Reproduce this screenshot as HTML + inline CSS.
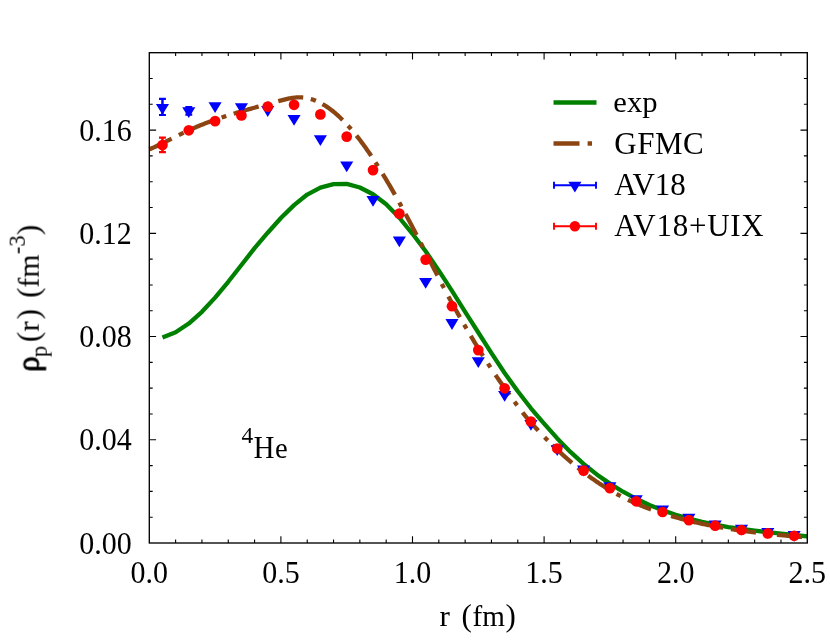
<!DOCTYPE html>
<html><head><meta charset="utf-8"><title>4He proton density</title>
<style>html,body{margin:0;padding:0;background:#fff;}svg{display:block;}text{font-family:"Liberation Serif",serif;fill:#000;}.tx{filter:grayscale(1);}</style></head>
<body>
<svg width="830" height="642" viewBox="0 0 830 642">
<rect width="830" height="642" fill="#fff"/>
<path d="M175.62 543.00 v-3.40 M175.62 52.70 v3.40 M201.94 543.00 v-3.40 M201.94 52.70 v3.40 M228.26 543.00 v-3.40 M228.26 52.70 v3.40 M254.58 543.00 v-3.40 M254.58 52.70 v3.40 M280.90 543.00 v-6.80 M280.90 52.70 v6.80 M307.22 543.00 v-3.40 M307.22 52.70 v3.40 M333.54 543.00 v-3.40 M333.54 52.70 v3.40 M359.86 543.00 v-3.40 M359.86 52.70 v3.40 M386.18 543.00 v-3.40 M386.18 52.70 v3.40 M412.50 543.00 v-6.80 M412.50 52.70 v6.80 M438.82 543.00 v-3.40 M438.82 52.70 v3.40 M465.14 543.00 v-3.40 M465.14 52.70 v3.40 M491.46 543.00 v-3.40 M491.46 52.70 v3.40 M517.78 543.00 v-3.40 M517.78 52.70 v3.40 M544.10 543.00 v-6.80 M544.10 52.70 v6.80 M570.42 543.00 v-3.40 M570.42 52.70 v3.40 M596.74 543.00 v-3.40 M596.74 52.70 v3.40 M623.06 543.00 v-3.40 M623.06 52.70 v3.40 M649.38 543.00 v-3.40 M649.38 52.70 v3.40 M675.70 543.00 v-6.80 M675.70 52.70 v6.80 M702.02 543.00 v-3.40 M702.02 52.70 v3.40 M728.34 543.00 v-3.40 M728.34 52.70 v3.40 M754.66 543.00 v-3.40 M754.66 52.70 v3.40 M780.98 543.00 v-3.40 M780.98 52.70 v3.40 M149.30 517.19 h3.40 M807.30 517.19 h-3.40 M149.30 491.39 h3.40 M807.30 491.39 h-3.40 M149.30 465.58 h3.40 M807.30 465.58 h-3.40 M149.30 439.78 h6.80 M807.30 439.78 h-6.80 M149.30 413.97 h3.40 M807.30 413.97 h-3.40 M149.30 388.17 h3.40 M807.30 388.17 h-3.40 M149.30 362.36 h3.40 M807.30 362.36 h-3.40 M149.30 336.56 h6.80 M807.30 336.56 h-6.80 M149.30 310.75 h3.40 M807.30 310.75 h-3.40 M149.30 284.95 h3.40 M807.30 284.95 h-3.40 M149.30 259.14 h3.40 M807.30 259.14 h-3.40 M149.30 233.34 h6.80 M807.30 233.34 h-6.80 M149.30 207.53 h3.40 M807.30 207.53 h-3.40 M149.30 181.73 h3.40 M807.30 181.73 h-3.40 M149.30 155.92 h3.40 M807.30 155.92 h-3.40 M149.30 130.12 h6.80 M807.30 130.12 h-6.80 M149.30 104.31 h3.40 M807.30 104.31 h-3.40 M149.30 78.51 h3.40 M807.30 78.51 h-3.40" stroke="#000" stroke-width="1.1" fill="none"/>
<defs><clipPath id="cp"><rect x="148.30" y="52.70" width="659.50" height="490.30"/></clipPath></defs>
<path d="M162.46 337.47 L175.62 332.31 L188.78 323.52 L201.94 311.80 L215.10 297.62 L228.26 281.77 L241.42 265.02 L254.58 248.15 L267.74 232.70 L280.90 217.98 L294.06 205.13 L307.22 194.55 L320.38 187.66 L333.54 184.13 L346.70 183.85 L359.86 187.48 L373.02 194.28 L386.18 204.33 L399.34 217.74 L412.50 233.80 L425.66 251.30 L438.82 270.60 L451.98 290.90 L465.14 311.80 L478.30 332.50 L491.46 353.20 L504.62 373.00 L517.78 391.30 L530.94 408.30 L544.10 423.55 L557.26 438.41 L570.42 451.96 L583.58 463.96 L596.74 474.44 L609.90 483.63 L623.06 491.73 L636.22 498.81 L649.38 504.97 L662.54 510.27 L675.70 514.82 L688.86 518.68 L702.02 521.94 L715.18 524.69 L728.34 527.01 L741.50 528.97 L754.66 530.67 L767.82 532.19 L780.98 533.60 L794.14 535.00 L807.30 536.46" fill="none" stroke="#008000" stroke-width="4.3" stroke-linejoin="round" clip-path="url(#cp)"/>
<path d="M149.30 149.36 L150.30 148.93 L151.30 148.50 L152.30 148.05 L153.30 147.60 L154.30 147.15 L155.30 146.69 L156.30 146.23 L157.30 145.76 L158.30 145.28 L159.30 144.81 L160.30 144.32 L161.30 143.84 L162.30 143.35 L163.30 142.86 L164.30 142.37 L165.30 141.87 L166.30 141.37 L167.30 140.88 L168.30 140.38 L169.30 139.87 L170.30 139.37 L171.30 138.87 L172.30 138.37 L173.30 137.86 L174.30 137.36 L175.30 136.86 L176.30 136.36 L177.30 135.86 L178.30 135.36 L179.30 134.87 L180.30 134.38 L181.30 133.89 L182.30 133.40 L183.30 132.91 L184.30 132.43 L185.30 131.96 L186.30 131.48 L187.30 131.01 L188.30 130.55 L189.30 130.09 L190.30 129.64 L191.30 129.19 L192.30 128.74 L193.30 128.30 L194.30 127.87 L195.30 127.44 L196.30 127.01 L197.30 126.59 L198.30 126.17 L199.30 125.76 L200.30 125.35 L201.30 124.95 L202.30 124.55 L203.30 124.15 L204.30 123.76 L205.30 123.37 L206.30 122.99 L207.30 122.61 L208.30 122.23 L209.30 121.86 L210.30 121.49 L211.30 121.13 L212.30 120.76 L213.30 120.40 L214.30 120.05 L215.30 119.70 L216.30 119.35 L217.30 119.00 L218.30 118.66 L219.30 118.32 L220.30 117.98 L221.30 117.64 L222.30 117.31 L223.30 116.98 L224.30 116.66 L225.30 116.33 L226.30 116.01 L227.30 115.69 L228.30 115.37 L229.30 115.06 L230.30 114.74 L231.30 114.43 L232.30 114.12 L233.30 113.82 L234.30 113.51 L235.30 113.21 L236.30 112.91 L237.30 112.61 L238.30 112.31 L239.30 112.02 L240.30 111.72 L241.30 111.43 L242.30 111.14 L243.30 110.85 L244.30 110.56 L245.30 110.27 L246.30 109.99 L247.30 109.70 L248.30 109.42 L249.30 109.14 L250.30 108.86 L251.30 108.58 L252.30 108.30 L253.30 108.02 L254.30 107.75 L255.30 107.47 L256.30 107.19 L257.30 106.92 L258.30 106.64 L259.30 106.37 L260.30 106.10 L261.30 105.83 L262.30 105.55 L263.30 105.28 L264.30 105.01 L265.30 104.74 L266.30 104.47 L267.30 104.20 L268.30 103.93 L269.30 103.66 L270.30 103.39 L271.30 103.11 L272.30 102.84 L273.30 102.57 L274.30 102.30 L275.30 102.03 L276.30 101.76 L277.30 101.49 L278.30 101.21 L279.30 100.94 L280.30 100.67 L281.30 100.40 L282.30 100.13 L283.30 99.87 L284.30 99.61 L285.30 99.36 L286.30 99.12 L287.30 98.89 L288.30 98.67 L289.30 98.46 L290.30 98.27 L291.30 98.09 L292.30 97.92 L293.30 97.78 L294.30 97.65 L295.30 97.54 L296.30 97.45 L297.30 97.39 L298.30 97.35 L299.30 97.33 L300.30 97.35 L301.30 97.38 L302.30 97.45 L303.30 97.54 L304.30 97.65 L305.30 97.79 L306.30 97.96 L307.30 98.15 L308.30 98.37 L309.30 98.61 L310.30 98.88 L311.30 99.17 L312.30 99.49 L313.30 99.83 L314.30 100.20 L315.30 100.59 L316.30 101.00 L317.30 101.44 L318.30 101.90 L319.30 102.39 L320.30 102.90 L321.30 103.43 L322.30 103.98 L323.30 104.56 L324.30 105.16 L325.30 105.79 L326.30 106.43 L327.30 107.10 L328.30 107.79 L329.30 108.50 L330.30 109.24 L331.30 109.99 L332.30 110.77 L333.30 111.56 L334.30 112.38 L335.30 113.22 L336.30 114.08 L337.30 114.97 L338.30 115.87 L339.30 116.79 L340.30 117.73 L341.30 118.69 L342.30 119.68 L343.30 120.68 L344.30 121.70 L345.30 122.74 L346.30 123.80 L347.30 124.88 L348.30 125.98 L349.30 127.09 L350.30 128.23 L351.30 129.38 L352.30 130.55 L353.30 131.74 L354.30 132.95 L355.30 134.17 L356.30 135.42 L357.30 136.68 L358.30 137.95 L359.30 139.25 L360.30 140.56 L361.30 141.89 L362.30 143.23 L363.30 144.59 L364.30 145.97 L365.30 147.36 L366.30 148.77 L367.30 150.19 L368.30 151.63 L369.30 153.08 L370.30 154.55 L371.30 156.03 L372.30 157.53 L373.30 159.04 L374.30 160.56 L375.30 162.10 L376.30 163.65 L377.30 165.22 L378.30 166.80 L379.30 168.39 L380.30 169.99 L381.30 171.61 L382.30 173.23 L383.30 174.87 L384.30 176.53 L385.30 178.19 L386.30 179.86 L387.30 181.55 L388.30 183.25 L389.30 184.96 L390.30 186.67 L391.30 188.40 L392.30 190.14 L393.30 191.89 L394.30 193.65 L395.30 195.42 L396.30 197.20 L397.30 198.98 L398.30 200.78 L399.30 202.58 L400.30 204.40 L401.30 206.22 L402.30 208.05 L403.30 209.88 L404.30 211.73 L405.30 213.58 L406.30 215.44 L407.30 217.30 L408.30 219.18 L409.30 221.06 L410.30 222.94 L411.30 224.84 L412.30 226.74 L413.30 228.64 L414.30 230.55 L415.30 232.46 L416.30 234.38 L417.30 236.31 L418.30 238.24 L419.30 240.17 L420.30 242.11 L421.30 244.05 L422.30 246.00 L423.30 247.95 L424.30 249.89 L425.30 251.85 L426.30 253.80 L427.30 255.75 L428.30 257.71 L429.30 259.66 L430.30 261.62 L431.30 263.57 L432.30 265.53 L433.30 267.48 L434.30 269.43 L435.30 271.38 L436.30 273.32 L437.30 275.27 L438.30 277.21 L439.30 279.14 L440.30 281.08 L441.30 283.00 L442.30 284.92 L443.30 286.84 L444.30 288.74 L445.30 290.64 L446.30 292.53 L447.30 294.40 L448.30 296.27 L449.30 298.12 L450.30 299.97 L451.30 301.80 L452.30 303.62 L453.30 305.43 L454.30 307.24 L455.30 309.03 L456.30 310.82 L457.30 312.60 L458.30 314.36 L459.30 316.13 L460.30 317.88 L461.30 319.63 L462.30 321.37 L463.30 323.10 L464.30 324.83 L465.30 326.56 L466.30 328.27 L467.30 329.99 L468.30 331.69 L469.30 333.39 L470.30 335.09 L471.30 336.77 L472.30 338.45 L473.30 340.12 L474.30 341.78 L475.30 343.43 L476.30 345.07 L477.30 346.71 L478.30 348.34 L479.30 349.96 L480.30 351.57 L481.30 353.18 L482.30 354.77 L483.30 356.36 L484.30 357.93 L485.30 359.50 L486.30 361.06 L487.30 362.61 L488.30 364.16 L489.30 365.69 L490.30 367.22 L491.30 368.73 L492.30 370.24 L493.30 371.73 L494.30 373.22 L495.30 374.69 L496.30 376.15 L497.30 377.61 L498.30 379.05 L499.30 380.49 L500.30 381.91 L501.30 383.33 L502.30 384.75 L503.30 386.16 L504.30 387.56 L505.30 388.96 L506.30 390.35 L507.30 391.75 L508.30 393.14 L509.30 394.53 L510.30 395.92 L511.30 397.31 L512.30 398.70 L513.30 400.08 L514.30 401.46 L515.30 402.84 L516.30 404.21 L517.30 405.56 L518.30 406.91 L519.30 408.24 L520.30 409.56 L521.30 410.86 L522.30 412.15 L523.30 413.41 L524.30 414.66 L525.30 415.89 L526.30 417.11 L527.30 418.31 L528.30 419.49 L529.30 420.66 L530.30 421.82 L531.30 422.96 L532.30 424.09 L533.30 425.21 L534.30 426.32 L535.30 427.41 L536.30 428.50 L537.30 429.58 L538.30 430.66 L539.30 431.72 L540.30 432.78 L541.30 433.83 L542.30 434.88 L543.30 435.91 L544.30 436.95 L545.30 437.97 L546.30 438.99 L547.30 440.00 L548.30 441.01 L549.30 442.00 L550.30 443.00 L551.30 443.98 L552.30 444.96 L553.30 445.93 L554.30 446.90 L555.30 447.85 L556.30 448.81 L557.30 449.75 L558.30 450.69 L559.30 451.62 L560.30 452.55 L561.30 453.46 L562.30 454.38 L563.30 455.28 L564.30 456.18 L565.30 457.07 L566.30 457.96 L567.30 458.83 L568.30 459.71 L569.30 460.57 L570.30 461.43 L571.30 462.28 L572.30 463.13 L573.30 463.97 L574.30 464.80 L575.30 465.62 L576.30 466.44 L577.30 467.25 L578.30 468.06 L579.30 468.86 L580.30 469.65 L581.30 470.44 L582.30 471.22 L583.30 471.99 L584.30 472.76 L585.30 473.52 L586.30 474.27 L587.30 475.01 L588.30 475.75 L589.30 476.49 L590.30 477.21 L591.30 477.93 L592.30 478.65 L593.30 479.35 L594.30 480.05 L595.30 480.75 L596.30 481.43 L597.30 482.12 L598.30 482.79 L599.30 483.46 L600.30 484.12 L601.30 484.77 L602.30 485.42 L603.30 486.06 L604.30 486.69 L605.30 487.32 L606.30 487.94 L607.30 488.56 L608.30 489.17 L609.30 489.77 L610.30 490.36 L611.30 490.95 L612.30 491.54 L613.30 492.11 L614.30 492.68 L615.30 493.24 L616.30 493.80 L617.30 494.35 L618.30 494.89 L619.30 495.43 L620.30 495.96 L621.30 496.48 L622.30 497.00 L623.30 497.51 L624.30 498.01 L625.30 498.51 L626.30 499.01 L627.30 499.49 L628.30 499.97 L629.30 500.45 L630.30 500.92 L631.30 501.38 L632.30 501.84 L633.30 502.29 L634.30 502.74 L635.30 503.18 L636.30 503.61 L637.30 504.04 L638.30 504.47 L639.30 504.89 L640.30 505.31 L641.30 505.72 L642.30 506.12 L643.30 506.52 L644.30 506.92 L645.30 507.31 L646.30 507.70 L647.30 508.08 L648.30 508.45 L649.30 508.83 L650.30 509.20 L651.30 509.56 L652.30 509.92 L653.30 510.28 L654.30 510.63 L655.30 510.97 L656.30 511.32 L657.30 511.66 L658.30 511.99 L659.30 512.33 L660.30 512.66 L661.30 512.98 L662.30 513.30 L663.30 513.62 L664.30 513.94 L665.30 514.25 L666.30 514.55 L667.30 514.86 L668.30 515.16 L669.30 515.46 L670.30 515.76 L671.30 516.05 L672.30 516.34 L673.30 516.63 L674.30 516.91 L675.30 517.19 L676.30 517.47 L677.30 517.75 L678.30 518.02 L679.30 518.29 L680.30 518.56 L681.30 518.83 L682.30 519.09 L683.30 519.35 L684.30 519.61 L685.30 519.86 L686.30 520.12 L687.30 520.37 L688.30 520.61 L689.30 520.86 L690.30 521.10 L691.30 521.34 L692.30 521.58 L693.30 521.82 L694.30 522.05 L695.30 522.28 L696.30 522.51 L697.30 522.73 L698.30 522.96 L699.30 523.18 L700.30 523.40 L701.30 523.61 L702.30 523.83 L703.30 524.04 L704.30 524.25 L705.30 524.46 L706.30 524.66 L707.30 524.86 L708.30 525.06 L709.30 525.26 L710.30 525.46 L711.30 525.66 L712.30 525.85 L713.30 526.04 L714.30 526.23 L715.30 526.41 L716.30 526.60 L717.30 526.78 L718.30 526.96 L719.30 527.14 L720.30 527.32 L721.30 527.49 L722.30 527.66 L723.30 527.83 L724.30 528.00 L725.30 528.17 L726.30 528.34 L727.30 528.50 L728.30 528.66 L729.30 528.82 L730.30 528.98 L731.30 529.14 L732.30 529.29 L733.30 529.45 L734.30 529.60 L735.30 529.75 L736.30 529.90 L737.30 530.04 L738.30 530.19 L739.30 530.33 L740.30 530.47 L741.30 530.61 L742.30 530.75 L743.30 530.89 L744.30 531.03 L745.30 531.16 L746.30 531.30 L747.30 531.43 L748.30 531.56 L749.30 531.69 L750.30 531.81 L751.30 531.94 L752.30 532.07 L753.30 532.19 L754.30 532.31 L755.30 532.43 L756.30 532.55 L757.30 532.67 L758.30 532.79 L759.30 532.91 L760.30 533.02 L761.30 533.13 L762.30 533.25 L763.30 533.36 L764.30 533.47 L765.30 533.58 L766.30 533.69 L767.30 533.79 L768.30 533.90 L769.30 534.01 L770.30 534.11 L771.30 534.21 L772.30 534.32 L773.30 534.42 L774.30 534.52 L775.30 534.62 L776.30 534.72 L777.30 534.82 L778.30 534.91 L779.30 535.01 L780.30 535.10 L781.30 535.20 L782.30 535.29 L783.30 535.39 L784.30 535.48 L785.30 535.57 L786.30 535.66 L787.30 535.75 L788.30 535.84 L789.30 535.93 L790.30 536.02 L791.30 536.11 L792.30 536.20 L793.30 536.28 L794.30 536.37 L795.30 536.45 L796.30 536.54 L797.30 536.62 L798.30 536.71 L799.30 536.79 L800.30 536.88 L801.30 536.96 L802.30 537.04 L803.30 537.12 L804.30 537.21 L805.30 537.29 L806.30 537.37 L807.30 537.45" fill="none" stroke="#8b4513" stroke-width="4.3" stroke-dasharray="24.71 8.16 5.34 6.96 24.80 9.10 4.94 7.75 26.01 6.84 4.87 8.60 25.33 7.76 5.41 7.37 25.83 7.79 4.60 8.36 25.11 7.74 4.60 9.02 24.11 8.92 4.60 8.40 23.75 9.18 4.60 8.38 23.60 9.41 4.60 9.47 23.79 8.55 4.60 8.37 23.68 8.99 4.60 9.12 24.49 8.19 4.60 8.98 23.95 9.20 4.60 6.29 26.63 7.52 4.60 8.41 26.90 7.00 4.60 8.24 24.94 8.27 4.60 8.27 53.35 8.00 25.24 8.27 4.60 8.26 25.20 1000.00" clip-path="url(#cp)"/>
<g><path d="M162.46 98.90 V115.00" stroke="#0000ff" stroke-width="2.5" fill="none"/><path d="M159.01 98.90 h6.9 M159.01 115.00 h6.9" stroke="#0000ff" stroke-width="2.1" fill="none"/><path d="M188.78 107.00 V114.60" stroke="#0000ff" stroke-width="2.5" fill="none"/><path d="M185.33 107.00 h6.9 M185.33 114.60 h6.9" stroke="#0000ff" stroke-width="2.1" fill="none"/><path d="M155.91 103.90 h13.10 l-6.55 10.80 z M182.23 107.30 h13.10 l-6.55 10.80 z M208.55 102.30 h13.10 l-6.55 10.80 z M234.87 103.20 h13.10 l-6.55 10.80 z M261.19 106.10 h13.10 l-6.55 10.80 z M287.51 114.90 h13.10 l-6.55 10.80 z M313.83 135.20 h13.10 l-6.55 10.80 z M340.15 161.50 h13.10 l-6.55 10.80 z M366.47 196.00 h13.10 l-6.55 10.80 z M392.79 236.40 h13.10 l-6.55 10.80 z M419.11 277.90 h13.10 l-6.55 10.80 z M445.43 319.10 h13.10 l-6.55 10.80 z M471.75 357.20 h13.10 l-6.55 10.80 z M498.07 391.00 h13.10 l-6.55 10.80 z M524.39 420.00 h13.10 l-6.55 10.80 z M550.71 445.20 h13.10 l-6.55 10.80 z M577.03 465.60 h13.10 l-6.55 10.80 z M603.35 482.20 h13.10 l-6.55 10.80 z M629.67 495.20 h13.10 l-6.55 10.80 z M655.99 505.40 h13.10 l-6.55 10.80 z M682.31 513.70 h13.10 l-6.55 10.80 z M708.63 520.40 h13.10 l-6.55 10.80 z M734.95 524.80 h13.10 l-6.55 10.80 z M761.27 528.00 h13.10 l-6.55 10.80 z M787.59 531.00 h13.10 l-6.55 10.80 z" fill="#0000ff"/></g>
<g><path d="M162.46 137.65 V152.10" stroke="#ff0000" stroke-width="2.5" fill="none"/><path d="M159.01 137.65 h6.9 M159.01 152.10 h6.9" stroke="#ff0000" stroke-width="2.1" fill="none"/><circle cx="162.46" cy="145.00" r="5.35" fill="#ff0000"/><circle cx="188.78" cy="130.30" r="5.35" fill="#ff0000"/><circle cx="215.10" cy="121.10" r="5.35" fill="#ff0000"/><circle cx="241.42" cy="115.40" r="5.35" fill="#ff0000"/><circle cx="267.74" cy="106.60" r="5.35" fill="#ff0000"/><circle cx="294.06" cy="104.80" r="5.35" fill="#ff0000"/><circle cx="320.38" cy="114.40" r="5.35" fill="#ff0000"/><circle cx="346.70" cy="136.60" r="5.35" fill="#ff0000"/><circle cx="373.02" cy="170.10" r="5.35" fill="#ff0000"/><circle cx="399.34" cy="213.60" r="5.35" fill="#ff0000"/><circle cx="425.66" cy="259.60" r="5.35" fill="#ff0000"/><circle cx="451.98" cy="306.20" r="5.35" fill="#ff0000"/><circle cx="478.30" cy="350.10" r="5.35" fill="#ff0000"/><circle cx="504.62" cy="388.30" r="5.35" fill="#ff0000"/><circle cx="530.94" cy="421.50" r="5.35" fill="#ff0000"/><circle cx="557.26" cy="448.50" r="5.35" fill="#ff0000"/><circle cx="583.58" cy="470.60" r="5.35" fill="#ff0000"/><circle cx="609.90" cy="488.10" r="5.35" fill="#ff0000"/><circle cx="636.22" cy="501.30" r="5.35" fill="#ff0000"/><circle cx="662.54" cy="512.00" r="5.35" fill="#ff0000"/><circle cx="688.86" cy="520.10" r="5.35" fill="#ff0000"/><circle cx="715.18" cy="525.70" r="5.35" fill="#ff0000"/><circle cx="741.50" cy="530.00" r="5.35" fill="#ff0000"/><circle cx="767.82" cy="533.40" r="5.35" fill="#ff0000"/><circle cx="794.14" cy="535.80" r="5.35" fill="#ff0000"/></g>
<rect x="149.30" y="52.70" width="658.00" height="490.30" fill="none" stroke="#000" stroke-width="1.35"/>
<g class="tx">
<text x="149.30" y="582.9" font-size="30.9" text-anchor="middle" textLength="37.5" lengthAdjust="spacingAndGlyphs" font-family="Liberation Serif, serif">0.0</text>
<text x="280.90" y="582.9" font-size="30.9" text-anchor="middle" textLength="37.5" lengthAdjust="spacingAndGlyphs" font-family="Liberation Serif, serif">0.5</text>
<text x="412.50" y="582.9" font-size="30.9" text-anchor="middle" textLength="37.5" lengthAdjust="spacingAndGlyphs" font-family="Liberation Serif, serif">1.0</text>
<text x="544.10" y="582.9" font-size="30.9" text-anchor="middle" textLength="37.5" lengthAdjust="spacingAndGlyphs" font-family="Liberation Serif, serif">1.5</text>
<text x="675.70" y="582.9" font-size="30.9" text-anchor="middle" textLength="37.5" lengthAdjust="spacingAndGlyphs" font-family="Liberation Serif, serif">2.0</text>
<text x="807.30" y="582.9" font-size="30.9" text-anchor="middle" textLength="37.5" lengthAdjust="spacingAndGlyphs" font-family="Liberation Serif, serif">2.5</text>
<text x="131.8" y="553.70" font-size="30.9" text-anchor="end" textLength="52.5" lengthAdjust="spacingAndGlyphs" font-family="Liberation Serif, serif">0.00</text>
<text x="131.8" y="450.48" font-size="30.9" text-anchor="end" textLength="52.5" lengthAdjust="spacingAndGlyphs" font-family="Liberation Serif, serif">0.04</text>
<text x="131.8" y="347.26" font-size="30.9" text-anchor="end" textLength="52.5" lengthAdjust="spacingAndGlyphs" font-family="Liberation Serif, serif">0.08</text>
<text x="131.8" y="244.04" font-size="30.9" text-anchor="end" textLength="52.5" lengthAdjust="spacingAndGlyphs" font-family="Liberation Serif, serif">0.12</text>
<text x="131.8" y="140.82" font-size="30.9" text-anchor="end" textLength="52.5" lengthAdjust="spacingAndGlyphs" font-family="Liberation Serif, serif">0.16</text>
<text x="439.6" y="625.9" font-size="29.3" textLength="10.4" lengthAdjust="spacingAndGlyphs" font-family="Liberation Serif, serif">r</text>
<text x="461.4" y="625.9" font-size="31" font-family="Liberation Serif, serif">(</text>
<text x="472.5" y="625.9" font-size="29.3" textLength="32.4" lengthAdjust="spacingAndGlyphs" font-family="Liberation Serif, serif">fm</text>
<text x="505.6" y="625.9" font-size="31" font-family="Liberation Serif, serif">)</text>
<g transform="translate(38.7 371.6) rotate(-90)" font-family="Liberation Serif, serif">
<text x="-0.3" y="0" font-size="31" stroke="#000" stroke-width="0.9">ρ</text>
<text x="14.6" y="8.1" font-size="22.5">p</text>
<text x="29.4" y="0" font-size="31">(</text>
<text x="39.9" y="0" font-size="29.3" textLength="10.4" lengthAdjust="spacingAndGlyphs">r</text>
<text x="52.2" y="0" font-size="31">)</text>
<text x="73.7" y="0" font-size="31">(</text>
<text x="84.0" y="0" font-size="29.3" textLength="33" lengthAdjust="spacingAndGlyphs">fm</text>
<text x="117.4" y="-13.6" font-size="22.5">-3</text>
<text x="136.4" y="0" font-size="31">)</text>
</g>
<text x="241.4" y="442.8" font-size="23.4" font-family="Liberation Serif, serif">4</text>
<text x="253.5" y="457.6" font-size="30.8" textLength="21.0" lengthAdjust="spacingAndGlyphs" font-family="Liberation Serif, serif">H</text>
<text x="275.0" y="457.6" font-size="28.6" font-family="Liberation Serif, serif">e</text>
</g>
<path d="M553.50 102.6 H596.50" stroke="#008000" stroke-width="4.5"/>
<path d="M553.50 143.6 H579.5 M587.6 143.6 H592.0" stroke="#8b4513" stroke-width="4.5"/>
<path d="M553.50 185.20 H596.50 M554.00 181.70 v7 M596.00 181.70 v7" stroke="#0000ff" stroke-width="1.9" fill="none"/>
<path d="M553.50 226.30 H596.50 M554.00 222.80 v7 M596.00 222.80 v7" stroke="#ff0000" stroke-width="1.9" fill="none"/>
<path d="M568.35 181.8 h13.10 l-6.55 10.80 z" fill="#0000ff"/>
<circle cx="574.9" cy="226.3" r="5.25" fill="#ff0000"/>
<g class="tx">
<text x="613.3" y="111.8" font-size="28.6" font-family="Liberation Serif, serif" textLength="44.2" lengthAdjust="spacingAndGlyphs">exp</text>
<text x="614.2" y="153.6" font-size="31" font-family="Liberation Serif, serif" textLength="89.6" lengthAdjust="spacing">GFMC</text>
<text x="614.2" y="195.3" font-size="31" font-family="Liberation Serif, serif" textLength="71.5" lengthAdjust="spacing">AV18</text>
<text x="614.2" y="235.9" font-size="31" font-family="Liberation Serif, serif" textLength="149.5" lengthAdjust="spacing">AV18+UIX</text>
</g>
</svg>
</body></html>
